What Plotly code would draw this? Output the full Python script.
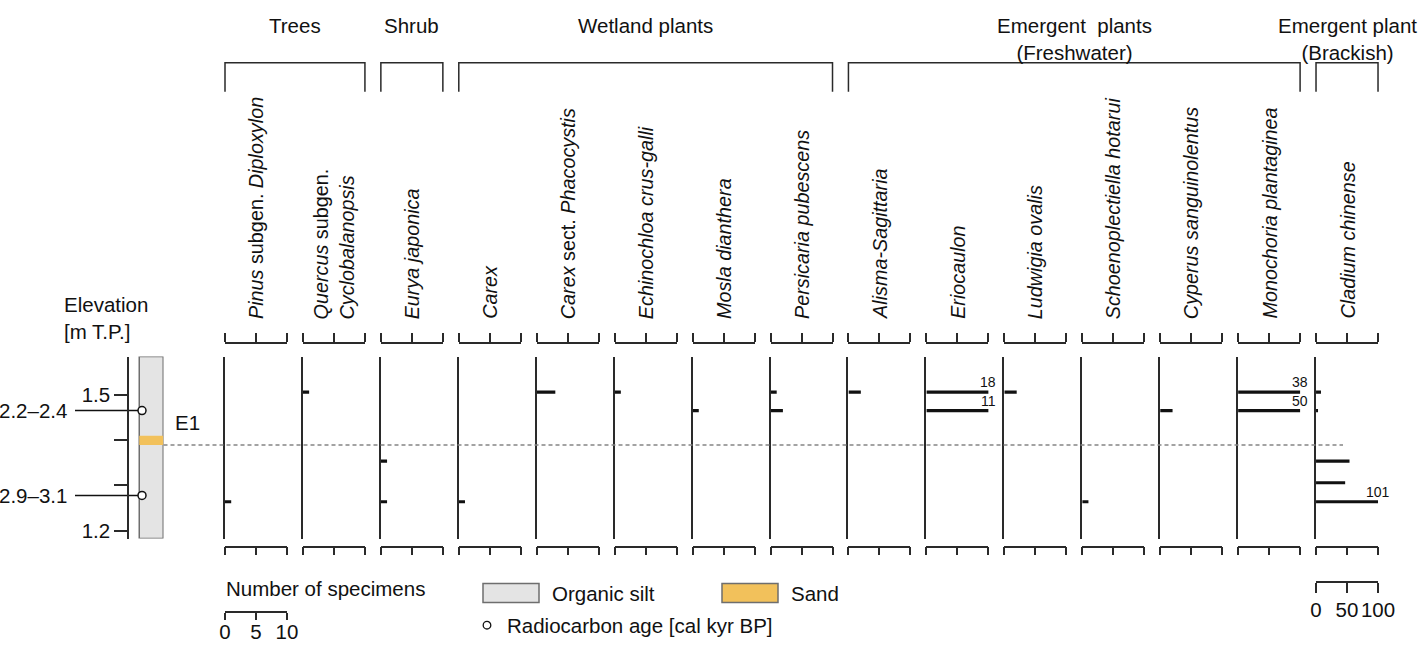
import plotly.graph_objects as go

W, H = 1418, 646

# ---------------- data ----------------
SPECIES = [
    "<i>Pinus</i> subgen. <i>Diploxylon</i>",
    "<i>Quercus</i> subgen.<br><i>Cyclobalanopsis</i>",
    "<i>Eurya japonica</i>",
    "<i>Carex</i>",
    "<i>Carex</i> sect. <i>Phacocystis</i>",
    "<i>Echinochloa crus-galli</i>",
    "<i>Mosla dianthera</i>",
    "<i>Persicaria pubescens</i>",
    "<i>Alisma-Sagittaria</i>",
    "<i>Eriocaulon</i>",
    "<i>Ludwigia ovalis</i>",
    "<i>Schoenoplectiella hotarui</i>",
    "<i>Cyperus sanguinolentus</i>",
    "<i>Monochoria plantaginea</i>",
    "<i>Cladium chinense</i>",
]
GROUPS = ["Trees", "Shrub", "Wetland plants",
          "Emergent  plants<br>(Freshwater)", "Emergent plant<br>(Brackish)"]
GROUP_FIRST = [0, 2, 3, 8, 14]
GROUP_LAST = [1, 2, 7, 13, 14]

SAMPLE_ELEV = [1.507, 1.466, 1.354, 1.306, 1.264]
COUNTS = [
    [0, 0, 0, 0, 1],      # Pinus
    [1, 0, 0, 0, 0],      # Quercus
    [0, 0, 1, 0, 1],      # Eurya
    [0, 0, 0, 0, 1],      # Carex
    [3, 0, 0, 0, 0],      # Carex sect. Phacocystis
    [1, 0, 0, 0, 0],      # Echinochloa
    [0, 1, 0, 0, 0],      # Mosla
    [1, 2, 0, 0, 0],      # Persicaria
    [2, 0, 0, 0, 0],      # Alisma-Sagittaria
    [18, 11, 0, 0, 0],    # Eriocaulon
    [2, 0, 0, 0, 0],      # Ludwigia
    [0, 0, 0, 0, 1],      # Schoenoplectiella
    [0, 2, 0, 0, 0],      # Cyperus
    [38, 50, 0, 0, 0],    # Monochoria
    [8, 3, 54, 47, 101],  # Cladium
]
AXIS_MAX = [10] * 14 + [100]
AXIS_TICKS = [[0, 5, 10]] * 14 + [[0, 50, 100]]

Y_RANGE = [1.1824, 1.586]
ELEV_TICKS = [1.5, 1.4, 1.3, 1.2]
ELEV_TICKTEXT = ["1.5", "", "", "1.2"]

LITH_NAMES = ["Organic silt", "Sand"]
LITH_BASE = [1.1824, 1.39]
LITH_TOP = [1.586, 1.41]
LITH_COLORS = ["#e4e4e4", "#f2c15b"]

RC_ELEV = [1.466, 1.278]
RC_LABEL = ["2.2\u20132.4", "2.9\u20133.1"]
EVENT_ELEV = 1.39
EVENT_LABEL = "E1"

SCALE_TICKS = [0, 5, 10]
CLADIUM_SCALE_TICKS = [0, 50, 100]

# ---------------- layout helpers ----------------
FONT = "Liberation Sans, Arial, Helvetica, sans-serif"
LC = "#2a2a2a"
TXT = "#111111"
FS = 20.5


def px(x):
    return x / W


def py(y):
    return 1 - y / H


def xref(n):
    return "x" if n == 1 else f"x{n}"


def yref(n):
    return "y" if n == 1 else f"y{n}"


def xkey(n):
    return "xaxis" if n == 1 else f"xaxis{n}"


def ykey(n):
    return "yaxis" if n == 1 else f"yaxis{n}"


PANEL_LEFT0 = 225.0
PANEL_STEP = 77.93
PANEL_W = 62.0
YDOM = [py(538.5), py(356.5)]
NP = len(SPECIES)

fig = go.Figure()
lay = {}
annotations = []
shapes = []

common_axis = dict(showgrid=False, zeroline=False, fixedrange=True, automargin=False)

for i in range(NP):
    n = i + 1
    ntop = NP + 1 + i
    left = PANEL_LEFT0 + i * PANEL_STEP
    dom = [px(left), px(left + PANEL_W)]

    fig.add_trace(go.Bar(
        x=COUNTS[i], y=SAMPLE_ELEV, orientation="h", width=0.0068,
        marker=dict(color="#111111", line=dict(width=0)),
        xaxis=xref(n), yaxis=yref(n), showlegend=False, hoverinfo="skip"))
    fig.add_trace(go.Scatter(x=[None], y=[None], xaxis=xref(ntop), yaxis=yref(n),
                             showlegend=False, hoverinfo="skip"))

    lay[xkey(n)] = dict(domain=dom, range=[0, AXIS_MAX[i]], anchor="free",
                        position=py(546.5), side="bottom", showline=True,
                        linecolor=LC, linewidth=1.5, ticks="outside", ticklen=8,
                        tickwidth=1.5, tickcolor=LC, tickvals=AXIS_TICKS[i],
                        showticklabels=False, **common_axis)
    lay[xkey(ntop)] = dict(domain=dom, range=[0, AXIS_MAX[i]], anchor="free",
                           position=py(342.7), side="top", showline=True,
                           linecolor=LC, linewidth=1.5, ticks="outside", ticklen=9,
                           tickwidth=1.5, tickcolor=LC, tickvals=AXIS_TICKS[i],
                           showticklabels=False, **common_axis)
    lay[ykey(n)] = dict(domain=YDOM, range=Y_RANGE, anchor=xref(n), showline=True,
                        linecolor=LC, linewidth=1.5, ticks="", showticklabels=False,
                        **common_axis)

    # species label
    annotations.append(dict(
        text=SPECIES[i], xref="paper", yref="paper", x=px(left + PANEL_W / 2),
        y=py(321), xanchor="center", yanchor="bottom", textangle=-90, align="left",
        showarrow=False, font=dict(family=FONT, size=19.8, color=TXT)))

    # value labels for bars running past the axis
    for v, e in zip(COUNTS[i], SAMPLE_ELEV):
        if v > AXIS_MAX[i]:
            annotations.append(dict(
                text=str(v), xref=xref(n), yref=yref(n), x=AXIS_MAX[i], y=e,
                xanchor="center", yanchor="middle", yshift=10, showarrow=False,
                font=dict(family=FONT, size=14, color=TXT)))

# group headers and brackets
for g, f, l in zip(GROUPS, GROUP_FIRST, GROUP_LAST):
    x0 = PANEL_LEFT0 + f * PANEL_STEP
    x1 = PANEL_LEFT0 + l * PANEL_STEP + PANEL_W
    shapes.append(dict(type="path", xref="paper", yref="paper",
                       path=f"M {px(x0)} {py(91.7)} L {px(x0)} {py(62.7)} "
                            f"L {px(x1)} {py(62.7)} L {px(x1)} {py(91.7)}",
                       line=dict(color=LC, width=1.5)))
    annotations.append(dict(text=g, xref="paper", yref="paper", x=px((x0 + x1) / 2),
                            y=py(12), xanchor="center", yanchor="top", showarrow=False,
                            font=dict(family=FONT, size=FS, color=TXT)))

# ---------------- lithology column ----------------
NL = NP * 2 + 1  # 31
lay[xkey(NL)] = dict(domain=[px(70), px(163.5)], range=[70, 163.5], anchor=yref(16),
                     visible=False, **common_axis)
lay[ykey(16)] = dict(domain=YDOM, range=Y_RANGE, anchor="free", position=px(128),
                     side="left", showline=True, linecolor=LC, linewidth=1.5,
                     ticks="outside", ticklen=13, tickwidth=1.5, tickcolor=LC,
                     tickvals=ELEV_TICKS, ticktext=ELEV_TICKTEXT,
                     tickfont=dict(family=FONT, size=FS, color=TXT), **common_axis)

for name, b, t, c in zip(LITH_NAMES, LITH_BASE, LITH_TOP, LITH_COLORS):
    fig.add_trace(go.Bar(
        x=[151.25], y=[t - b], base=[b], width=[24], orientation="v",
        marker=dict(color=c, line=dict(color="#6e6e6e" if name == "Organic silt" else c,
                                       width=1.5 if name == "Organic silt" else 0)),
        xaxis=xref(NL), yaxis=yref(16), showlegend=False, hoverinfo="skip", name=name))

# radiocarbon connectors and markers
cx, cy = [], []
for e in RC_ELEV:
    cx += [75, 142, None]
    cy += [e, e, None]
fig.add_trace(go.Scatter(x=cx, y=cy, mode="lines", line=dict(color="#111111", width=1.5),
                         xaxis=xref(NL), yaxis=yref(16), showlegend=False, hoverinfo="skip"))
fig.add_trace(go.Scatter(x=[142] * len(RC_ELEV), y=RC_ELEV, mode="markers",
                         marker=dict(symbol="circle", size=8, color="white",
                                     line=dict(color="#111111", width=1.5)),
                         cliponaxis=False, xaxis=xref(NL), yaxis=yref(16),
                         showlegend=False, hoverinfo="skip"))
for lab, e in zip(RC_LABEL, RC_ELEV):
    annotations.append(dict(text=lab, xref="paper", yref=yref(16), x=px(69), y=e,
                            xanchor="right", yanchor="middle", showarrow=False,
                            font=dict(family=FONT, size=FS, color=TXT)))

# event boundary
shapes.append(dict(type="line", xref="paper", yref=yref(16), x0=px(163.5), x1=px(1343),
                   y0=EVENT_ELEV, y1=EVENT_ELEV,
                   line=dict(color="#858585", width=1.5, dash="4px,3px")))
annotations.append(dict(text=EVENT_LABEL, xref="paper", yref=yref(16), x=px(187.5),
                        y=EVENT_ELEV, yshift=22, xanchor="center", yanchor="middle",
                        showarrow=False, font=dict(family=FONT, size=FS, color=TXT)))

annotations.append(dict(text="Elevation<br>[m T.P.]", xref="paper", yref="paper",
                        x=px(62), y=py(318), xanchor="left", yanchor="middle",
                        align="left", showarrow=False,
                        font=dict(family=FONT, size=FS, color=TXT)))

# ---------------- scale bars ----------------
NS1, NS2 = NL + 1, NL + 2
lay[xkey(NS1)] = dict(domain=[px(225), px(287)], range=[0, 10], anchor="free",
                      position=py(612), side="bottom", showline=True, linecolor=LC,
                      linewidth=1.5, ticks="outside", ticklen=7, tickwidth=1.5,
                      tickcolor=LC, tickvals=SCALE_TICKS, tickangle=0,
                      ticklabelstandoff=-5,
                      tickfont=dict(family=FONT, size=FS, color=TXT), **common_axis)
lay[xkey(NS2)] = dict(domain=[px(1316), px(1378)], range=[0, 100], anchor="free",
                      position=py(582), side="bottom", showline=True, linecolor=LC,
                      linewidth=1.5, ticks="outside", ticklen=10, tickwidth=1.5,
                      tickcolor=LC, tickvals=CLADIUM_SCALE_TICKS, tickangle=0,
                      tickfont=dict(family=FONT, size=FS, color=TXT), **common_axis)
for ns in (NS1, NS2):
    fig.add_trace(go.Scatter(x=[None], y=[None], xaxis=xref(ns), yaxis=yref(16),
                             showlegend=False, hoverinfo="skip"))

annotations.append(dict(text="Number of specimens", xref="paper", yref="paper",
                        x=px(224), y=py(588), xanchor="left", yanchor="middle",
                        showarrow=False, font=dict(family=FONT, size=FS, color=TXT)))

# legend for lithology and radiocarbon
LEG_X = [483, 722]
for name, c, lx in zip(LITH_NAMES, LITH_COLORS, LEG_X):
    shapes.append(dict(type="rect", xref="paper", yref="paper", x0=px(lx), x1=px(lx + 56),
                       y0=py(602.5), y1=py(583.5), fillcolor=c,
                       line=dict(color="#6e6e6e", width=1.5)))
    annotations.append(dict(text=name, xref="paper", yref="paper", x=px(lx + 67),
                            y=py(593), xanchor="left", yanchor="middle", showarrow=False,
                            font=dict(family=FONT, size=FS, color=TXT)))
shapes.append(dict(type="circle", xref="paper", yref="paper", x0=px(483.2), x1=px(490.8),
                   y0=py(629), y1=py(621.4), fillcolor="white",
                   line=dict(color="#111111", width=1.3)))
annotations.append(dict(text="Radiocarbon age [cal kyr BP]", xref="paper", yref="paper",
                        x=px(505), y=py(625), xanchor="left", yanchor="middle",
                        showarrow=False, font=dict(family=FONT, size=FS, color=TXT)))

fig.update_layout(
    width=W, height=H, margin=dict(l=0, r=0, t=0, b=0, pad=0, autoexpand=False),
    paper_bgcolor="white", plot_bgcolor="rgba(0,0,0,0)",
    showlegend=False, hovermode=False, barmode="overlay",
    font=dict(family=FONT, size=FS, color=TXT),
    annotations=annotations, shapes=shapes, **lay)

fig.write_html(
    "out.html",
    config={"displayModeBar": False, "responsive": False},
    post_script="document.body.style.margin='0px';document.body.style.overflow='hidden';",
)
